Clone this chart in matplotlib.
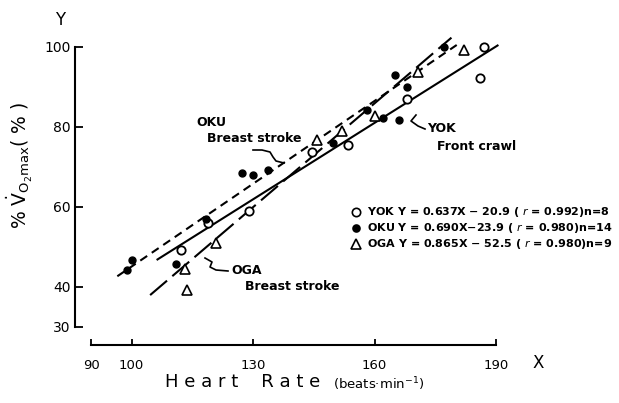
import matplotlib
matplotlib.use('Agg')
import matplotlib.pyplot as plt

# ---------------- data ----------------
yok_x = [112.1, 118.8, 129.1, 144.5, 153.5, 168.1, 186.0, 187.0]
yok_y = [49.3, 55.9, 59.1, 73.8, 75.5, 87.0, 92.2, 100.1]

oku_x = [99.0, 100.0, 110.9, 118.4, 127.4, 130.1, 133.8, 149.8,
         158.1, 162.0, 165.1, 166.1, 168.1, 177.2]
oku_y = [44.25, 46.75, 45.75, 56.9, 68.6, 68.0, 69.25, 75.9,
         84.25, 82.2, 93.0, 81.75, 90.1, 100.1]

oga_x = [113.2, 113.8, 120.9, 145.7, 152.0, 160.1, 170.8, 182.0]
oga_y = [44.4, 39.25, 50.9, 76.75, 79.0, 82.75, 93.8, 99.25]

# regression lines: slope, intercept ; drawn x-range
yok_fit = [0.637, -20.9]
oku_fit = [0.690, -23.9]
oga_fit = [0.865, -52.5]
yok_range = [106.2, 190.6]
oku_range = [96.5, 180.3]
oga_range = [104.6, 179.0]

x_ticks = [90, 100, 130, 160, 190]
y_ticks = [30, 40, 60, 80, 100]

legend_lines = [
    "YOK Y = 0.637X − 20.9 ( $r$ = 0.992)n=8",
    "OKU Y = 0.690X−23.9 ( $r$ = 0.980)n=14",
    "OGA Y = 0.865X − 52.5 ( $r$ = 0.980)n=9",
]

# ---------------- figure geometry ----------------
W, H = 619, 403
X0PX, SX = 91, 4.05     # pixel of X=90, px per unit
Y0PX, SY = 47, 4.0      # pixel of Y=100, px per unit


def px(x, y):
    """figure pixel (from top-left) -> data coordinates"""
    return 90 + (x - X0PX) / SX, 100 - (y - Y0PX) / SY


plt.rcParams['font.family'] = ['DejaVu Sans']
plt.rcParams['lines.scale_dashes'] = False
plt.rcParams['mathtext.fontset'] = 'dejavusans'
fig = plt.figure(figsize=(W / 100, H / 100), dpi=100)
ax = fig.add_axes([0, 0, 1, 1])
ax.set_xlim(px(0, 0)[0], px(W, 0)[0])
ax.set_ylim(px(0, H)[1], px(0, 0)[1])
ax.patch.set_visible(False)

for s in ['top', 'right']:
    ax.spines[s].set_visible(False)
yaxis_x = px(75, 0)[0]
xaxis_y = px(0, 345)[1]
ax.spines['left'].set_position(('data', yaxis_x))
ax.spines['left'].set_bounds(30, 100)
ax.spines['bottom'].set_position(('data', xaxis_y))
ax.spines['bottom'].set_bounds(90, 190)
for s in ['left', 'bottom']:
    ax.spines[s].set_linewidth(1.5)
    ax.spines[s].set_color('black')

ax.set_xticks(x_ticks)
ax.set_xticklabels([str(t) for t in x_ticks])
ax.set_yticks(y_ticks)
ax.set_yticklabels([str(t) for t in y_ticks])
ax.set_xticks([90, 190], minor=True)
ax.set_yticks([30, 100], minor=True)
ax.tick_params(axis='x', which='major', direction='in', length=4, width=1.3,
               pad=10, labelsize=9.5)
ax.tick_params(axis='x', which='minor', direction='in', length=7, width=1.3)
ax.tick_params(axis='y', which='major', direction='in', length=6, width=1.3,
               pad=3, labelsize=10)
ax.tick_params(axis='y', which='minor', direction='in', length=7, width=1.3)

# ---------------- regression lines ----------------
def fline(fit, rng):
    xs = [rng[0], rng[1]]
    return xs, [fit[0] * v + fit[1] for v in xs]

xs, ys = fline(yok_fit, yok_range)
ax.plot(xs, ys, color='black', lw=1.5, solid_capstyle='butt')
xs, ys = fline(oku_fit, oku_range)
ax.plot(xs, ys, color='black', lw=1.5, dashes=(6, 4))
xs, ys = fline(oga_fit, oga_range)
ax.plot(xs, ys, color='black', lw=1.5, dashes=(16, 5))

# ---------------- points ----------------
ax.plot(yok_x, yok_y, 'o', ms=6, mfc='white', mec='black', mew=1.3, ls='none')
ax.plot(oku_x, oku_y, 'o', ms=5, mfc='black', mec='black', ls='none')
ax.plot(oga_x, oga_y, '^', ms=7, mfc='white', mec='black', mew=1.2, ls='none')

# ---------------- annotations ----------------
def squiggle(pts):
    d = [px(a, b) for a, b in pts]
    ax.plot([p[0] for p in d], [p[1] for p in d], color='black', lw=1.2)

ann = dict(fontsize=9, fontweight='bold', va='center', ha='left')
ax.text(*px(196, 123), "OKU", **ann)
ax.text(*px(207, 139), "Breast stroke", **ann)
squiggle([(253, 150), (262, 150), (270, 152), (273, 157), (276, 161), (284, 163)])

ax.text(*px(427, 129), "YOK", **ann)
ax.text(*px(437, 147), "Front crawl", **ann)
squiggle([(416, 115), (411, 121), (418, 126), (425, 129)])

ax.text(*px(231, 270), "OGA", **ann)
ax.text(*px(245, 287), "Breast stroke", **ann)
squiggle([(205, 258), (212, 262), (210, 267), (216, 270), (228, 271)])

# ---------------- legend ----------------
leg_markers = [('o', 'white', 6), ('o', 'black', 5), ('^', 'white', 7)]
for i, (txt, (m, fc, ms)) in enumerate(zip(legend_lines, leg_markers)):
    yy = 212 + 16 * i
    mx, my = px(356, yy)
    ax.plot([mx], [my], m, ms=ms, mfc=fc, mec='black', mew=1.2)
    ax.text(*px(367, yy), txt, fontsize=8, fontweight='bold',
            va='center', ha='left')

# ---------------- axis titles ----------------
ax.text(*px(60, 20), "Y", fontsize=12, ha='center', va='center')
ax.text(*px(538, 363), "X", fontsize=12, ha='center', va='center')
ax.text(*px(20, 165), r"% $\dot{\mathrm{V}}_{\mathrm{O_2max}}$( % )",
        fontsize=13.5, rotation=90, ha='center', va='center')
ax.text(*px(165, 382), "H e a r t    R a t e", fontsize=13, ha='left', va='center')
ax.text(*px(333, 384), r"(beats·min$^{-1}$)", fontsize=9.5, ha='left', va='center')

fig.savefig('out.png', dpi=100)
